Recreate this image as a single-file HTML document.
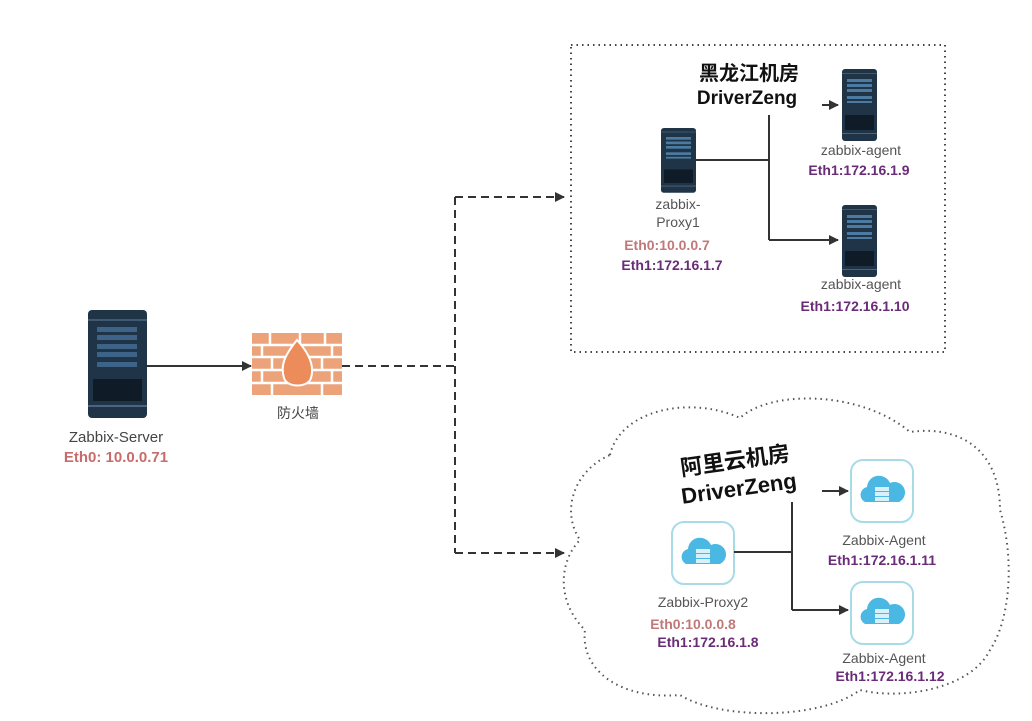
<!DOCTYPE html>
<html><head><meta charset="utf-8"><style>
html,body{margin:0;padding:0;background:#fff}
svg{display:block}
text{font-family:"Liberation Sans","Noto Sans CJK SC",sans-serif}
</style></head><body>
<svg width="1032" height="721" viewBox="0 0 1032 721" xmlns="http://www.w3.org/2000/svg">
<defs>
<marker id="ah" markerWidth="10" markerHeight="10" refX="9" refY="5" orient="auto" markerUnits="userSpaceOnUse"><path d="M0,0 L10,5 L0,10 z" fill="#333"/></marker>
<g id="srv">
<rect x="0" y="0" width="35" height="72" rx="3" fill="#1f3447"/>
<rect x="0" y="4" width="35" height="1" fill="#3f5a72"/>
<rect x="5" y="10" width="25" height="3" fill="#4c7aa0"/><rect x="5" y="15" width="25" height="3" fill="#4c7aa0"/><rect x="5" y="20" width="25" height="3" fill="#4c7aa0"/><rect x="5" y="27" width="25" height="3" fill="#4c7aa0"/><rect x="5" y="32" width="25" height="2" fill="#4c7aa0"/>
<rect x="3" y="46" width="29" height="15" fill="#0f1c28"/>
<rect x="0" y="64" width="35" height="1" fill="#4a6580"/>
</g>
<g id="cld">
<rect x="0" y="0" width="62" height="62" rx="12" fill="#fff" stroke="#a8dbe8" stroke-width="2"/>
<path d="M14,42 a8,8 0 0 1 2,-15 a12,12 0 0 1 23,-4 a9,9 0 0 1 9,19 z" fill="#4ab8e3"/>
<rect x="24" y="27" width="14" height="4" fill="#d8f0fa"/><rect x="24" y="32" width="14" height="4" fill="#d8f0fa"/><rect x="24" y="37" width="14" height="4" fill="#d8f0fa"/>
</g>
</defs>

<!-- server -->
<g transform="translate(88,310)">
<rect x="0" y="0" width="59" height="108" rx="4" fill="#1f3447"/>
<rect x="0" y="9" width="59" height="2" fill="#3f5a72"/>
<rect x="9" y="17" width="40" height="5" fill="#3d6488"/><rect x="9" y="25" width="40" height="5" fill="#3d6488"/><rect x="9" y="34" width="40" height="5" fill="#3d6488"/><rect x="9" y="42" width="40" height="5" fill="#3d6488"/><rect x="9" y="52" width="40" height="5" fill="#3d6488"/>
<rect x="5" y="69" width="49" height="22" fill="#0f1c28"/>
<rect x="0" y="95" width="59" height="2" fill="#4a6580"/>
</g>
<text x="116" y="442" font-size="15" fill="#444" text-anchor="middle">Zabbix-Server</text>
<text x="116" y="462" font-size="15" font-weight="bold" fill="#c96b6b" text-anchor="middle">Eth0: 10.0.0.71</text>
<line x1="147" y1="366" x2="251" y2="366" stroke="#333" stroke-width="2" marker-end="url(#ah)"/>

<!-- firewall -->
<g fill="#eda37a">
<rect x="252" y="333" width="90" height="62"/>
</g>
<g stroke="#fff" stroke-width="2.5">
<line x1="252" y1="345" x2="342" y2="345"/><line x1="252" y1="357" x2="342" y2="357"/><line x1="252" y1="370" x2="342" y2="370"/><line x1="252" y1="383" x2="342" y2="383"/>
<line x1="270" y1="333" x2="270" y2="345"/><line x1="300" y1="333" x2="300" y2="345"/><line x1="325" y1="333" x2="325" y2="345"/>
<line x1="262" y1="345" x2="262" y2="357"/><line x1="332" y1="345" x2="332" y2="357"/>
<line x1="272" y1="357" x2="272" y2="370"/><line x1="322" y1="357" x2="322" y2="370"/>
<line x1="262" y1="370" x2="262" y2="383"/><line x1="332" y1="370" x2="332" y2="383"/>
<line x1="272" y1="383" x2="272" y2="395"/><line x1="322" y1="383" x2="322" y2="395"/>
</g>
<path d="M297,340 C285,355 280,365 284,378 C287,388 308,388 311,378 C315,365 308,352 297,340 z" fill="#ec8c5a" stroke="#fff" stroke-width="2"/>
<text x="298" y="418" font-size="14" fill="#444" text-anchor="middle">防火墙</text>

<!-- dashed connectors -->
<g stroke="#333" stroke-width="2" stroke-dasharray="8,5" fill="none">
<line x1="342" y1="366" x2="455" y2="366"/>
<line x1="455" y1="197" x2="455" y2="553"/>
<line x1="455" y1="197" x2="564" y2="197" marker-end="url(#ah)"/>
<line x1="455" y1="553" x2="564" y2="553" marker-end="url(#ah)"/>
</g>

<!-- Heilongjiang box -->
<rect x="571" y="45" width="374" height="307" fill="none" stroke="#444" stroke-width="2" stroke-dasharray="1.5,4"/>
<text x="749" y="80" font-size="20" font-weight="bold" fill="#111" text-anchor="middle">黑龙江机房</text>
<text x="747" y="104" font-size="19" font-weight="bold" fill="#111" text-anchor="middle">DriverZeng</text>
<use href="#srv" transform="translate(661,128) scale(1,0.9)"/>
<text x="678" y="209" font-size="14" fill="#555" text-anchor="middle">zabbix-</text>
<text x="678" y="227" font-size="14" fill="#555" text-anchor="middle">Proxy1</text>
<text x="667" y="250" font-size="14" font-weight="bold" fill="#c07878" text-anchor="middle">Eth0:10.0.0.7</text>
<text x="672" y="270" font-size="14" font-weight="bold" fill="#6a2b78" text-anchor="middle">Eth1:172.16.1.7</text>
<g stroke="#333" stroke-width="2" fill="none">
<line x1="696" y1="160" x2="769" y2="160"/>
<line x1="769" y1="115" x2="769" y2="240"/>
<line x1="769" y1="240" x2="838" y2="240" marker-end="url(#ah)"/>
<line x1="822" y1="105" x2="838" y2="105" marker-end="url(#ah)"/>
</g>
<use href="#srv" transform="translate(842,69)"/>
<use href="#srv" transform="translate(842,205)"/>
<text x="861" y="155" font-size="14" fill="#555" text-anchor="middle">zabbix-agent</text>
<text x="859" y="175" font-size="14" font-weight="bold" fill="#6a2b78" text-anchor="middle">Eth1:172.16.1.9</text>
<text x="861" y="289" font-size="14" fill="#555" text-anchor="middle">zabbix-agent</text>
<text x="855" y="311" font-size="14" font-weight="bold" fill="#6a2b78" text-anchor="middle">Eth1:172.16.1.10</text>

<!-- cloud -->
<path d="M610,455 C620,410 690,395 740,418 C770,390 860,390 910,432 C960,425 1000,450 1000,510 C1015,560 1010,620 990,650 C970,690 900,700 860,690 C820,720 720,720 680,695 C620,700 580,670 585,630 C555,600 560,560 580,540 C560,510 575,470 610,455 z" fill="none" stroke="#555" stroke-width="2" stroke-dasharray="1.5,4"/>
<g transform="rotate(-8 737 475)">
<text x="737" y="468" font-size="22" font-weight="bold" fill="#111" text-anchor="middle">阿里云机房</text>
<text x="737" y="496" font-size="22" font-weight="bold" fill="#111" text-anchor="middle">DriverZeng</text>
</g>
<use href="#cld" transform="translate(672,522)"/>
<use href="#cld" transform="translate(851,460)"/>
<use href="#cld" transform="translate(851,582)"/>
<g stroke="#333" stroke-width="2" fill="none">
<line x1="734" y1="552" x2="792" y2="552"/>
<line x1="792" y1="502" x2="792" y2="610"/>
<line x1="792" y1="610" x2="848" y2="610" marker-end="url(#ah)"/>
<line x1="822" y1="491" x2="848" y2="491" marker-end="url(#ah)"/>
</g>
<text x="703" y="607" font-size="14" fill="#555" text-anchor="middle">Zabbix-Proxy2</text>
<text x="693" y="629" font-size="14" font-weight="bold" fill="#c07878" text-anchor="middle">Eth0:10.0.0.8</text>
<text x="708" y="647" font-size="14" font-weight="bold" fill="#6a2b78" text-anchor="middle">Eth1:172.16.1.8</text>
<text x="884" y="545" font-size="14" fill="#555" text-anchor="middle">Zabbix-Agent</text>
<text x="882" y="565" font-size="14" font-weight="bold" fill="#6a2b78" text-anchor="middle">Eth1:172.16.1.11</text>
<text x="884" y="663" font-size="14" fill="#555" text-anchor="middle">Zabbix-Agent</text>
<text x="890" y="681" font-size="14" font-weight="bold" fill="#6a2b78" text-anchor="middle">Eth1:172.16.1.12</text>
</svg>
</body></html>
